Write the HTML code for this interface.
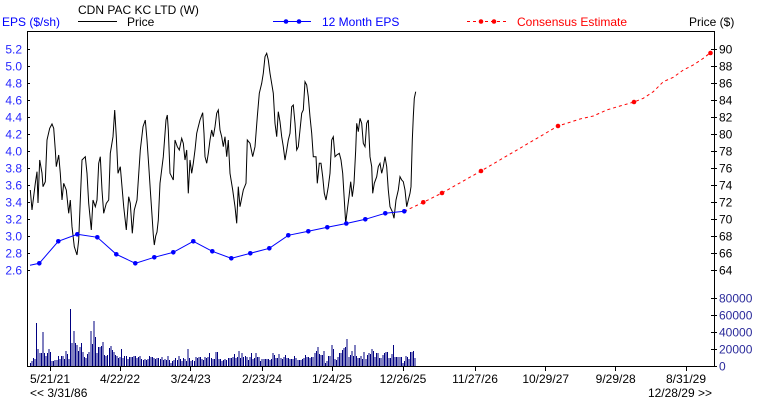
<!DOCTYPE html>
<html>
<head>
<meta charset="utf-8">
<style>
html,body{margin:0;padding:0;background:#fff;}
svg{display:block;}
text{font-family:"Liberation Sans",Arial,sans-serif;font-size:12px;}
</style>
</head>
<body>
<svg width="760" height="400" viewBox="0 0 760 400" xmlns="http://www.w3.org/2000/svg">
<rect width="760" height="400" fill="#fff"/>

<!-- Legend -->
<text x="78" y="14" fill="#000">CDN PAC KC LTD (W)</text>
<text x="2" y="26" fill="#0000ff">EPS ($/sh)</text>
<line x1="78" y1="21.5" x2="117" y2="21.5" stroke="#000" stroke-width="1"/>
<text x="127" y="26" fill="#000">Price</text>
<line x1="273" y1="21.5" x2="311" y2="21.5" stroke="#0000ff" stroke-width="1"/>
<circle cx="286" cy="21.5" r="2.3" fill="#0000ff"/>
<circle cx="299" cy="21.5" r="2.3" fill="#0000ff"/>
<text x="322" y="26" fill="#0000ff">12 Month EPS</text>
<line x1="467" y1="21.5" x2="507" y2="21.5" stroke="#ff0000" stroke-width="1" stroke-dasharray="3,3"/>
<circle cx="481" cy="21.5" r="2.3" fill="#ff0000"/>
<circle cx="494" cy="21.5" r="2.3" fill="#ff0000"/>
<text x="517" y="26" fill="#ff0000">Consensus Estimate</text>
<text x="689" y="26" fill="#000">Price ($)</text>

<!-- Frame -->
<g stroke="#000" stroke-width="1" shape-rendering="crispEdges">
<line x1="27.5" y1="31.5" x2="714.5" y2="31.5"/>
<line x1="27.5" y1="31" x2="27.5" y2="367"/>
<line x1="714.5" y1="31" x2="714.5" y2="367"/>
<line x1="27" y1="366.5" x2="715" y2="366.5"/>
</g>

<!-- Left EPS ticks -->
<g stroke="#000" stroke-width="1" shape-rendering="crispEdges">
<path d="M27 49.5h3M27 66.5h3M27 83.5h3M27 100.5h3M27 117.5h3M27 134.5h3M27 151.5h3M27 168.5h3M27 185.5h3M27 202.5h3M27 219.5h3M27 236.5h3M27 253.5h3M27 270.5h3"/>
<path d="M711 49.5h6M711 66.5h6M711 83.5h6M711 100.5h6M711 117.5h6M711 134.5h6M711 151.5h6M711 168.5h6M711 185.5h6M711 202.5h6M711 219.5h6M711 236.5h6M711 253.5h6M711 270.5h6"/>
<path d="M711 298.5h6M711 315.5h6M711 332.5h6M711 349.5h6M711 366.5h6"/>
<path d="M50.5 366v5M120.5 366v5M190.5 366v5M262.5 366v5M332.5 366v5M403.5 366v5M475.5 366v5M545.5 366v5M615.5 366v5M686.5 366v5"/>
</g>

<!-- Left EPS labels -->
<g fill="#2828ff" text-anchor="end">
<text x="22" y="53.5">5.2</text>
<text x="22" y="70.5">5.0</text>
<text x="22" y="87.5">4.8</text>
<text x="22" y="104.5">4.6</text>
<text x="22" y="121.5">4.4</text>
<text x="22" y="138.5">4.2</text>
<text x="22" y="155.5">4.0</text>
<text x="22" y="172.5">3.8</text>
<text x="22" y="189.5">3.6</text>
<text x="22" y="206.5">3.4</text>
<text x="22" y="223.5">3.2</text>
<text x="22" y="240.5">3.0</text>
<text x="22" y="257.5">2.8</text>
<text x="22" y="274.5">2.6</text>
</g>

<!-- Right price labels -->
<g fill="#000">
<text x="719" y="53.5">90</text>
<text x="719" y="70.5">88</text>
<text x="719" y="87.5">86</text>
<text x="719" y="104.5">84</text>
<text x="719" y="121.5">82</text>
<text x="719" y="138.5">80</text>
<text x="719" y="155.5">78</text>
<text x="719" y="172.5">76</text>
<text x="719" y="189.5">74</text>
<text x="719" y="206.5">72</text>
<text x="719" y="223.5">70</text>
<text x="719" y="240.5">68</text>
<text x="719" y="257.5">66</text>
<text x="719" y="274.5">64</text>
</g>

<!-- Volume labels -->
<g fill="#2b2b9b">
<text x="719" y="302.5">80000</text>
<text x="719" y="319.5">60000</text>
<text x="719" y="336.5">40000</text>
<text x="719" y="353.5">20000</text>
<text x="719" y="370.5">0</text>
</g>

<!-- X labels -->
<g fill="#000" text-anchor="middle">
<text x="50" y="383">5/21/21</text>
<text x="120" y="383">4/22/22</text>
<text x="190.7" y="383">3/24/23</text>
<text x="262" y="383">2/23/24</text>
<text x="332" y="383">1/24/25</text>
<text x="403" y="383">12/26/25</text>
<text x="475" y="383">11/27/26</text>
<text x="545.7" y="383">10/29/27</text>
<text x="615.7" y="383">9/29/28</text>
<text x="686" y="383">8/31/29</text>
</g>
<text x="30" y="397" fill="#000">&lt;&lt; 3/31/86</text>
<text x="712" y="397" fill="#000" text-anchor="end">12/28/29 &gt;&gt;</text>

<!-- Volume bars -->
<path stroke="#000080" stroke-width="1" fill="none" shape-rendering="crispEdges" d="M30.5 366v-3m1.545 3v-5m1.545 5v-8m1.545 8v-7m1.545 7v-43m1.545 43v-17m1.545 17v-13m1.545 13v-13m1.545 13v-34m1.545 34v-13m1.545 13v-10m1.545 10v-13m1.545 13v-17m1.545 17v-14m1.545 14v-5m1.545 5v-5m1.545 5v-6m1.545 6v-6m1.545 6v-10m1.545 10v-7m1.545 7v-10m1.545 10v-10m1.545 10v-7m1.545 7v-15m1.545 15v-12m1.545 12v-7m1.545 7v-57m1.545 57v-23m1.545 23v-35m1.545 35v-23m1.545 23v-21m1.545 21v-15m1.545 15v-19m1.545 19v-23m1.545 23v-14m1.545 14v-9m1.545 9v-8m1.545 8v-12m1.545 12v-14m1.545 14v-35m1.545 35v-22m1.545 22v-45m1.545 45v-29m1.545 29v-13m1.545 13v-19m1.545 19v-19m1.545 19v-20m1.545 20v-24m1.545 24v-11m1.545 11v-10m1.545 10v-11m1.545 11v-18m1.545 18v-20m1.545 20v-16m1.545 16v-14m1.545 14v-11m1.545 11v-10m1.545 10v-8m1.545 8v-9m1.545 9v-17m1.545 17v-8m1.545 8v-10m1.545 10v-10m1.545 10v-7m1.545 7v-9m1.545 9v-9m1.545 9v-9m1.545 9v-10m1.545 10v-10m1.545 10v-8m1.545 8v-9m1.545 9v-10m1.545 10v-7m1.545 7v-6m1.545 6v-7m1.545 7v-6m1.545 6v-7m1.545 7v-10m1.545 10v-9m1.545 9v-9m1.545 9v-8m1.545 8v-7m1.545 7v-8m1.545 8v-8m1.545 8v-7m1.545 7v-9m1.545 9v-6m1.545 6v-7m1.545 7v-6m1.545 6v-10m1.545 10v-6m1.545 6v-3m1.545 3v-5m1.545 5v-6m1.545 6v-8m1.545 8v-6m1.545 6v-10m1.545 10v-7m1.545 7v-5m1.545 5v-8m1.545 8v-7m1.545 7v-5m1.545 5v-17m1.545 17v-8m1.545 8v-5m1.545 5v-6m1.545 6v-5m1.545 5v-9m1.545 9v-8m1.545 8v-9m1.545 9v-9m1.545 9v-7m1.545 7v-6m1.545 6v-9m1.545 9v-8m1.545 8v-9m1.545 9v-13m1.545 13v-8m1.545 8v-7m1.545 7v-7m1.545 7v-14m1.545 14v-14m1.545 14v-7m1.545 7v-7m1.545 7v-5m1.545 5v-6m1.545 6v-7m1.545 7v-6m1.545 6v-8m1.545 8v-8m1.545 8v-8m1.545 8v-9m1.545 9v-12m1.545 12v-8m1.545 8v-9m1.545 9v-15m1.545 15v-8m1.545 8v-13m1.545 13v-9m1.545 9v-10m1.545 10v-9m1.545 9v-6m1.545 6v-9m1.545 9v-13m1.545 13v-7m1.545 7v-8m1.545 8v-13m1.545 13v-9m1.545 9v-9m1.545 9v-5m1.545 5v-7m1.545 7v-7m1.545 7v-7m1.545 7v-7m1.545 7v-7m1.545 7v-6m1.545 6v-7m1.545 7v-13m1.545 13v-11m1.545 11v-8m1.545 8v-8m1.545 8v-12m1.545 12v-8m1.545 8v-7m1.545 7v-9m1.545 9v-11m1.545 11v-8m1.545 8v-8m1.545 8v-7m1.545 7v-7m1.545 7v-7m1.545 7v-10m1.545 10v-8m1.545 8v-6m1.545 6v-6m1.545 6v-6m1.545 6v-7m1.545 7v-8m1.545 8v-11m1.545 11v-9m1.545 9v-9m1.545 9v-8m1.545 8v-9m1.545 9v-9m1.545 9v-13m1.545 13v-15m1.545 15v-19m1.545 19v-12m1.545 12v-11m1.545 11v-11m1.545 11v-15m1.545 15v-3m1.545 3v-5m1.545 5v-10m1.545 10v-10m1.545 10v-21m1.545 21v-17m1.545 17v-7m1.545 7v-6m1.545 6v-9m1.545 9v-13m1.545 13v-13m1.545 13v-16m1.545 16v-18m1.545 18v-19m1.545 19v-27m1.545 27v-9m1.545 9v-11m1.545 11v-15m1.545 15v-10m1.545 10v-21m1.545 21v-10m1.545 10v-8m1.545 8v-8m1.545 8v-10m1.545 10v-7m1.545 7v-14m1.545 14v-7m1.545 7v-11m1.545 11v-13m1.545 13v-12m1.545 12v-17m1.545 17v-15m1.545 15v-9m1.545 9v-13m1.545 13v-13m1.545 13v-8m1.545 8v-8m1.545 8v-11m1.545 11v-13m1.545 13v-14m1.545 14v-14m1.545 14v-8m1.545 8v-8m1.545 8v-12m1.545 12v-21m1.545 21v-9m1.545 9v-9m1.545 9v-9m1.545 9v-9m1.545 9v-9m1.545 9v-3m1.545 3v-5m1.545 5v-10m1.545 10v-9m1.545 9v-7m1.545 7v-14m1.545 14v-14m1.545 14v-15m1.545 15v-8"/>

<!-- Price line -->
<polyline fill="none" stroke="#000" stroke-width="1" stroke-linejoin="miter" points="30.3,190 32,210 35.3,183.3 37,171.7 38,203 39.7,160 42,173 43,186.7 45.3,181.7 47,140 49.7,128.3 52,124 53.7,128.3 55.3,150 56.3,166.7 58.7,155 60.3,173.3 62,200 63.7,183.3 66.3,190 68.7,213.3 70.3,200 72,226.7 74.3,246.7 77,255 78.7,240 80.3,200 82,160 85.3,156.7 87,173.3 88.7,203.3 91.3,230 93,200 95.3,206.7 97,200 98.7,163.3 100.3,156.7 102,190 103.7,213.3 106.3,203.3 108.7,200 110.3,153.3 113,136.7 114.7,110 116.3,136.7 118,173.3 120.3,166.7 123.7,206.7 126.3,230 128.7,196.7 130.3,203.3 132.3,233.3 134.3,210 137,200 140.3,150 143,126.7 145.3,120 147,140 148.7,165 150.3,190 152,215 153.3,235 154.3,245 155.7,236 157,232 158.3,220 160,183.3 163.3,156.7 166,120 167.3,115 168.3,130 170,173.3 171.7,176.7 173.3,180 175,140 177.3,146.7 179.3,150 181.7,138.3 183.3,143.3 185,160 186.7,150 188.3,193.3 190,160 191.7,173.3 193.3,163.3 195,150 196.7,133.3 198.3,126.7 200,120 202.7,112.7 204,133.3 205,156.7 206.7,163.3 208.3,153.3 210,140 211.7,130 213.3,136.7 215,126.7 216.7,113.3 218.3,110 220,130 221.7,136.7 223.3,146.7 225,136.7 226.7,156.7 228.3,140 230,173.3 232.7,190 235,206.7 236.7,223.3 238.3,186.7 240,206.7 243.3,190 246,183.3 247.3,140 250,143.3 252.7,156.7 255,146.7 257.3,116.7 259.3,93.3 261.7,83.3 263.3,73.3 265,56.7 266.7,53.3 268.3,60 270,73.3 273.3,93.3 275,123.3 276.7,136.7 278.3,111.7 280,121.7 281.7,136.7 283.3,146.7 285,160 286.7,150 288.3,140 290,133.3 291.7,106.7 293.3,105 295,123.3 296.7,150 298.3,146.7 300,130 301.7,113.3 303.3,110 305,81.7 306.7,85 308.3,96.7 310,116.7 311.7,133.3 313.3,156.7 316,156.7 317.3,183.3 319.3,163.3 321,163.3 322.7,176.7 324.3,193.3 326,200 328.3,186.7 330,173.3 331.7,140 333.3,136.7 335,156.7 336.7,155 339.3,153.3 341,160 342.7,173.3 344.3,200 345.7,223.3 347.3,210 349,196.7 350.7,181.7 352.3,196.7 354,183.3 355.7,150 356.7,123.3 358.3,131.7 360,118.3 361.7,123.3 363.3,143.3 365,146.7 366.7,123.3 368.3,120 370,156.7 371.7,166.7 372.7,193.3 374.3,183.3 376.7,176.7 378.3,166.7 380,163.3 381.7,173.3 383.3,166.7 385,156.7 386.7,166.7 388.3,190 390,206.7 392.3,211.7 394,218.3 396,200 398.3,190 400,176.7 401.7,180 403.3,181.7 405,190 406.7,206.7 408.3,200 410,193.3 411,186.7 412.3,140 413.3,116.7 414.3,98.3 415.7,91.7"/>

<!-- Consensus estimate (red dashed) -->
<polyline fill="none" stroke="#ff0000" stroke-width="1" stroke-dasharray="3,3" points="404.3,211.3 423.3,202.3 442,193 481,171 558,126 566.7,123.3 580,119 593.3,116 606.7,110 620,106 634,102 643.3,98.3 653.3,91.7 663.3,81.7 673.3,77.3 683.3,70 693.3,65 703.3,58.3 710,53"/>
<g fill="#ff0000">
<circle cx="423.3" cy="202.3" r="2.3"/>
<circle cx="442" cy="193" r="2.3"/>
<circle cx="481" cy="171" r="2.3"/>
<circle cx="558" cy="126" r="2.3"/>
<circle cx="634" cy="102" r="2.3"/>
<circle cx="710.5" cy="53" r="2.3"/>
</g>

<!-- 12 Month EPS -->
<polyline fill="none" stroke="#0000ff" stroke-width="1" points="30,265.3 39.3,263.3 58.3,241.3 77.3,234.3 97.3,237.3 116.3,254.3 135.3,263.3 154.3,257.3 173.3,252.3 193.3,241.3 212.3,251.3 231.3,258.3 250.3,253.3 269.3,248.3 288.3,235.3 308.3,231.3 327.3,227.3 346.3,223.5 365.3,219.3 385.3,213.3 404.3,211.3"/>
<g fill="#0000ff">
<circle cx="39.3" cy="263.3" r="2.3"/>
<circle cx="58.3" cy="241.3" r="2.3"/>
<circle cx="77.3" cy="234.3" r="2.3"/>
<circle cx="97.3" cy="237.3" r="2.3"/>
<circle cx="116.3" cy="254.3" r="2.3"/>
<circle cx="135.3" cy="263.3" r="2.3"/>
<circle cx="154.3" cy="257.3" r="2.3"/>
<circle cx="173.3" cy="252.3" r="2.3"/>
<circle cx="193.3" cy="241.3" r="2.3"/>
<circle cx="212.3" cy="251.3" r="2.3"/>
<circle cx="231.3" cy="258.3" r="2.3"/>
<circle cx="250.3" cy="253.3" r="2.3"/>
<circle cx="269.3" cy="248.3" r="2.3"/>
<circle cx="288.3" cy="235.3" r="2.3"/>
<circle cx="308.3" cy="231.3" r="2.3"/>
<circle cx="327.3" cy="227.3" r="2.3"/>
<circle cx="346.3" cy="223.5" r="2.3"/>
<circle cx="365.3" cy="219.3" r="2.3"/>
<circle cx="385.3" cy="213.3" r="2.3"/>
<circle cx="404.3" cy="211.3" r="2.3"/>
</g>
</svg>
</body>
</html>
